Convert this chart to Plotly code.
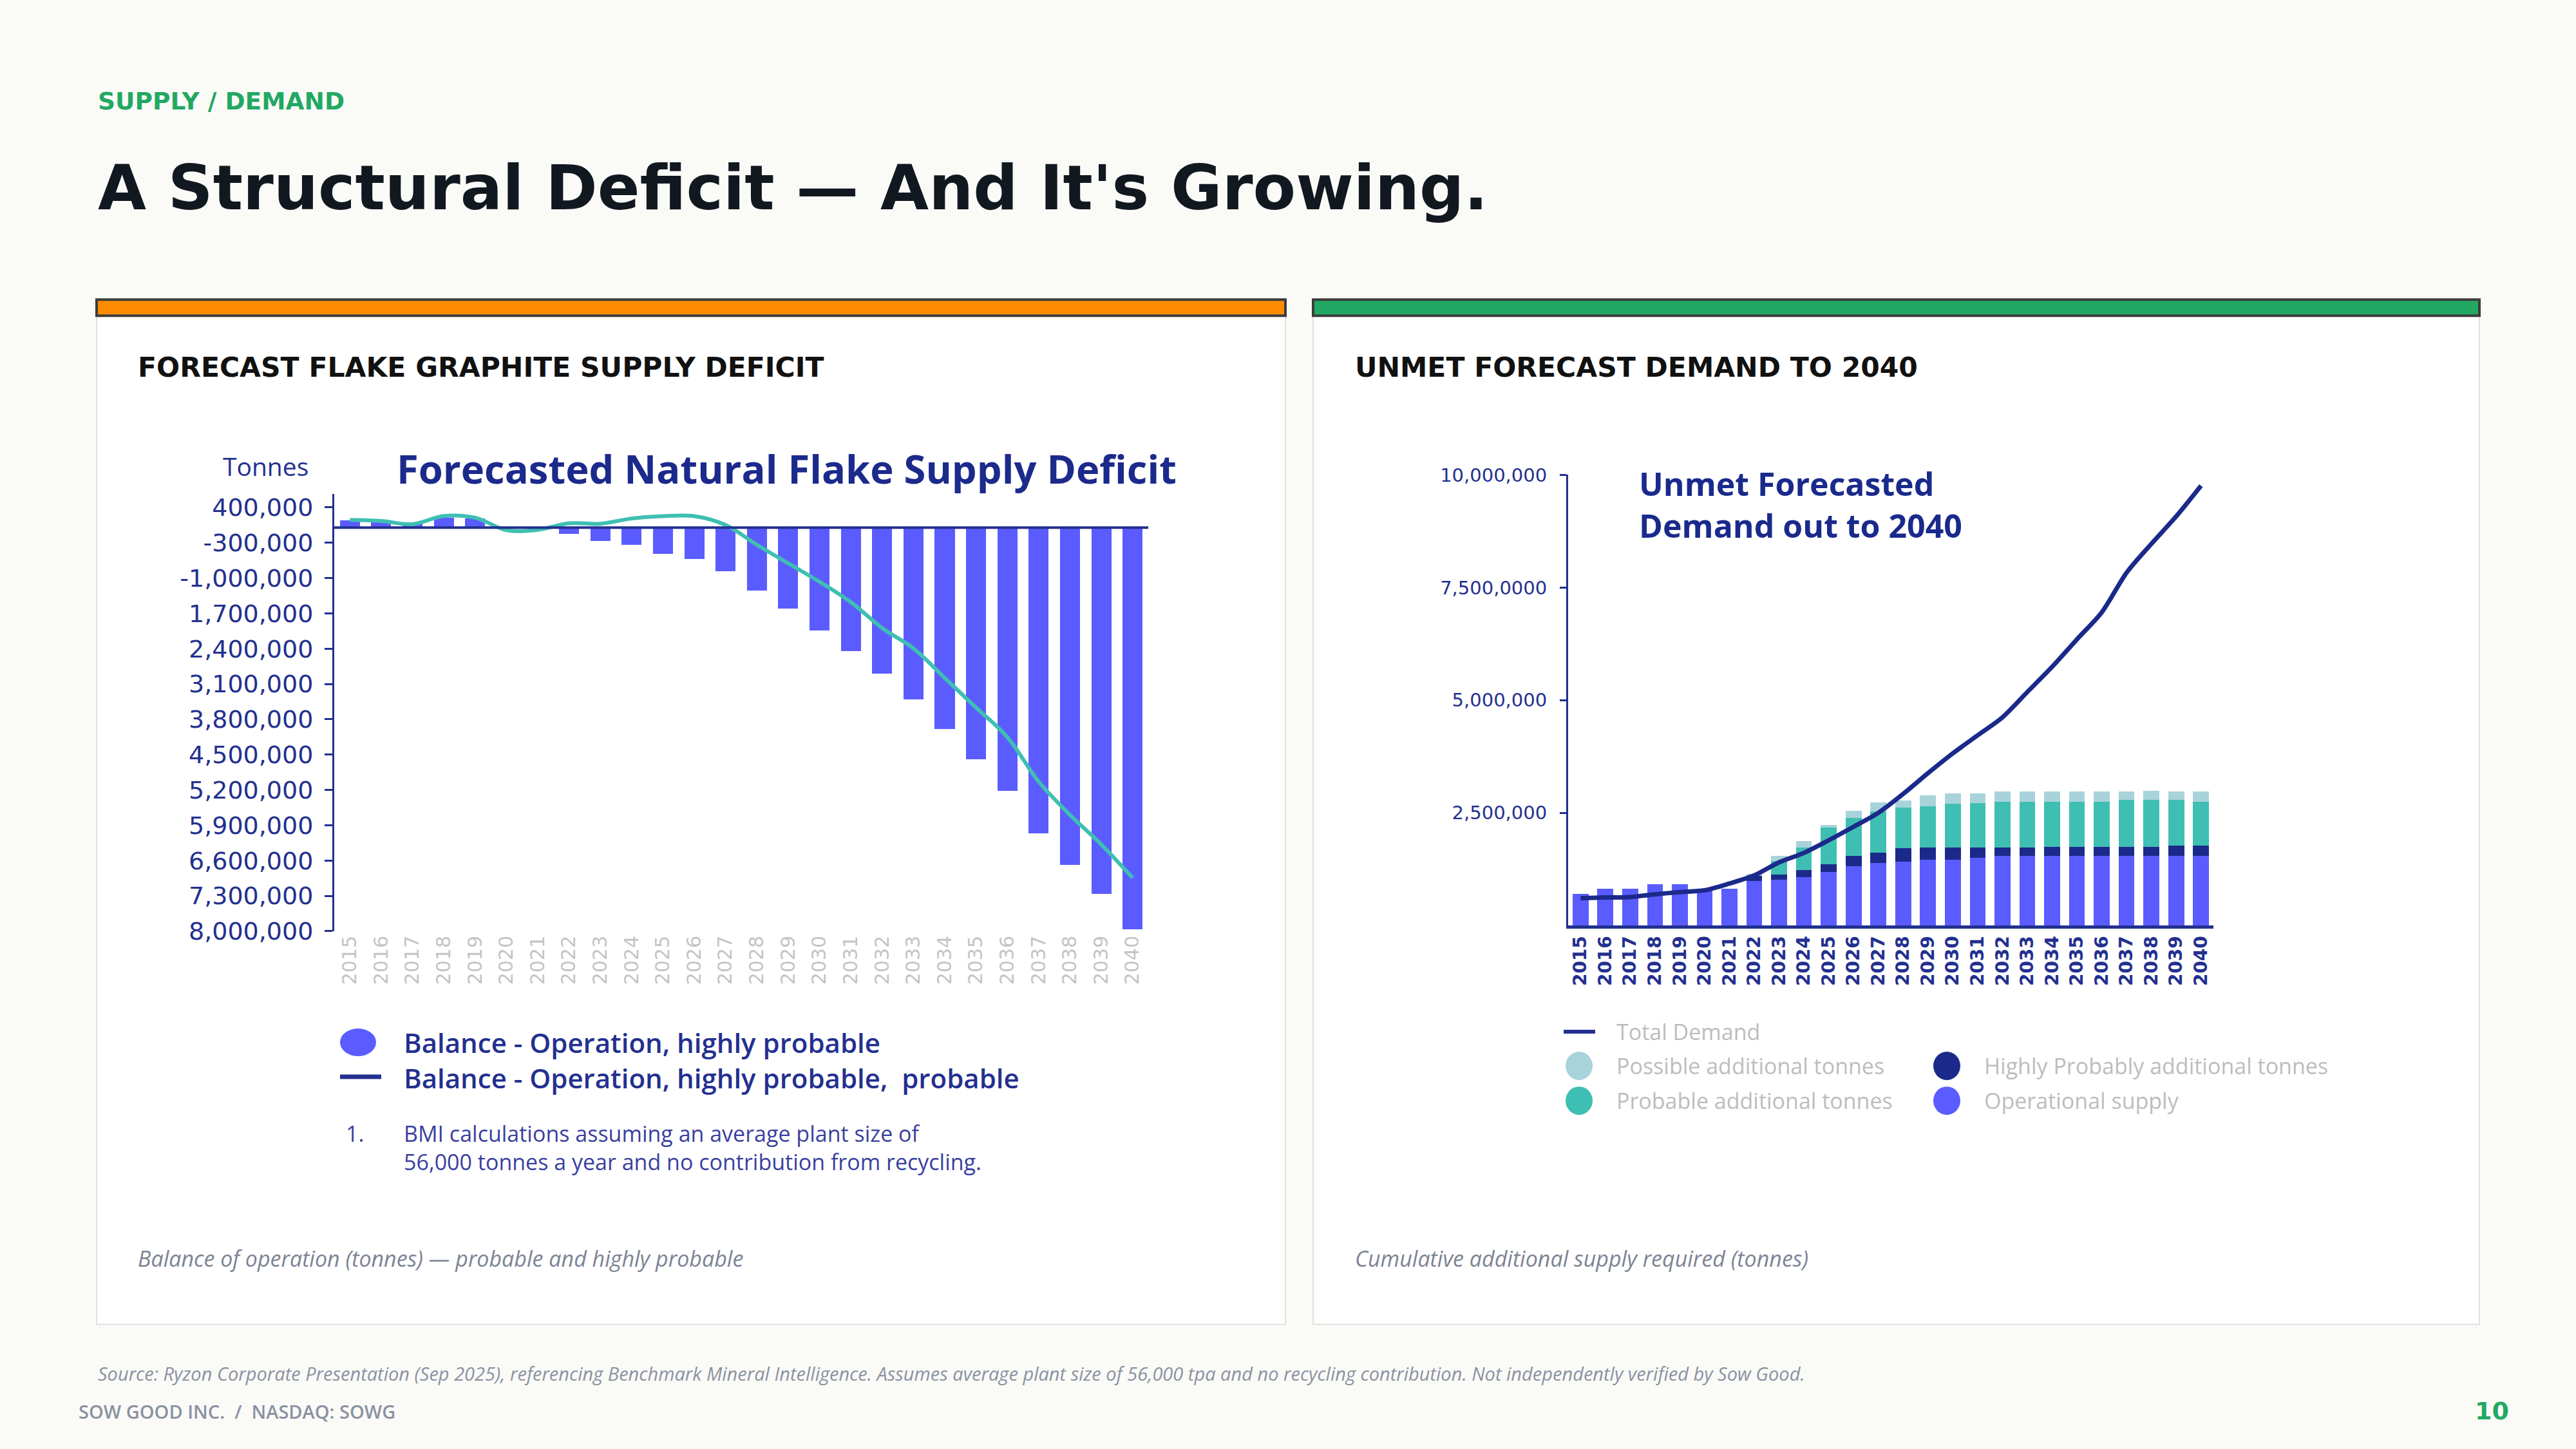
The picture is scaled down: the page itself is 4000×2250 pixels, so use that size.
import plotly.graph_objects as go

W, H = 4000, 2250

# ---------------- DATA ----------------
years = ["2015", "2016", "2017", "2018", "2019", "2020", "2021", "2022", "2023",
         "2024", "2025", "2026", "2027", "2028", "2029", "2030", "2031", "2032",
         "2033", "2034", "2035", "2036", "2037", "2038", "2039", "2040"]

# Left chart: balance (tonnes)
balance_highly_probable = [140000, 110000, 80000, 190000, 185000, -15000, -25000,
                           -120000, -270000, -340000, -520000, -625000, -860000,
                           -1250000, -1610000, -2044000, -2453000, -2893000,
                           -3407000, -3993000, -4594000, -5217000, -6061000,
                           -6685000, -7256000, -7967000]
balance_all_probable = [153000, 132000, 68000, 230000, 196000, -51000, -45000,
                        85000, 77000, 180000, 226000, 226000, 51000, -341000,
                        -708000, -1074000, -1478000, -1991000, -2394000,
                        -2981000, -3568000, -4154000, -5034000, -5694000,
                        -6281000, -6941000]
left_tickvals = [400000, -300000, -1000000, -1700000, -2400000, -3100000,
                 -3800000, -4500000, -5200000, -5900000, -6600000, -7300000,
                 -8000000]
left_ticktext = ["400,000", "-300,000", "-1,000,000", "1,700,000", "2,400,000",
                 "3,100,000", "3,800,000", "4,500,000", "5,200,000", "5,900,000",
                 "6,600,000", "7,300,000", "8,000,000"]

# Right chart: supply / demand (tonnes)
operational_supply = [700000, 810000, 810000, 920000, 920000, 780000, 820000,
                      980000, 1010000, 1070000, 1180000, 1310000, 1390000,
                      1420000, 1460000, 1460000, 1500000, 1550000, 1550000,
                      1550000, 1550000, 1550000, 1550000, 1550000, 1550000,
                      1550000]
highly_probable_add = [0, 0, 0, 0, 0, 0, 0, 120000, 120000, 160000, 180000,
                       230000, 220000, 290000, 270000, 270000, 230000, 180000,
                       180000, 200000, 200000, 200000, 200000, 200000, 220000,
                       220000]
probable_add = [0, 0, 0, 0, 0, 0, 0, 0, 300000, 500000, 810000, 850000, 920000,
                900000, 910000, 970000, 990000, 1020000, 1020000, 1000000,
                1000000, 1000000, 1040000, 1040000, 1020000, 980000]
possible_add = [0, 0, 0, 0, 0, 0, 0, 40000, 110000, 140000, 60000, 150000,
                200000, 170000, 250000, 230000, 210000, 220000, 220000, 220000,
                220000, 220000, 180000, 200000, 180000, 220000]
total_demand = [605000, 620000, 630000, 690000, 740000, 780000, 930000, 1110000,
                1400000, 1610000, 1890000, 2190000, 2500000, 2920000, 3380000,
                3820000, 4220000, 4620000, 5180000, 5740000, 6350000, 6950000,
                7830000, 8470000, 9080000, 9760000]
right_tickvals = [2500000, 5000000, 7500000, 10000000]
right_ticktext = ["2,500,000", "5,000,000", "7,500,0000", "10,000,000"]

# ---------------- STYLE ----------------
NAVY = "#23308F"
NAVY_DARK = "#1B2A8A"
PERI = "#5A5CFF"
TEAL = "#3FBFB3"
LIGHTBLUE = "#A9D3DB"
GREEN = "#22A862"
ORANGE = "#FF8C00"
HEAD = "DejaVu Sans"


def px(x):
    return x / W


def py(y):
    return 1 - ((y - 16) / 0.982) / H


fig = go.Figure()

# Left chart traces
fig.add_trace(go.Bar(x=years, y=balance_highly_probable, marker_color=PERI,
                     marker_line_width=0, name="Balance - Operation, highly probable",
                     xaxis="x", yaxis="y", showlegend=False))
fig.add_trace(go.Scatter(x=years, y=balance_all_probable, mode="lines",
                         line=dict(color=TEAL, width=6, shape="spline", smoothing=1.0),
                         name="Balance - Operation, highly probable, probable",
                         xaxis="x", yaxis="y", showlegend=False))

# Right chart traces
fig.add_trace(go.Bar(x=years, y=operational_supply, marker_color=PERI,
                     marker_line_width=0, name="Operational supply",
                     xaxis="x2", yaxis="y2", showlegend=False))
fig.add_trace(go.Bar(x=years, y=highly_probable_add, marker_color=NAVY_DARK,
                     marker_line_width=0, name="Highly Probably additional tonnes",
                     xaxis="x2", yaxis="y2", showlegend=False))
fig.add_trace(go.Bar(x=years, y=probable_add, marker_color=TEAL,
                     marker_line_width=0, name="Probable additional tonnes",
                     xaxis="x2", yaxis="y2", showlegend=False))
fig.add_trace(go.Bar(x=years, y=possible_add, marker_color=LIGHTBLUE,
                     marker_line_width=0, name="Possible additional tonnes",
                     xaxis="x2", yaxis="y2", showlegend=False))
fig.add_trace(go.Scatter(x=years, y=total_demand, mode="lines",
                         line=dict(color=NAVY_DARK, width=7, shape="spline", smoothing=0.8),
                         name="Total Demand", xaxis="x2", yaxis="y2", showlegend=False))

shapes = []
# Cards
for x0, x1, col in [(150, 1996, ORANGE), (2039, 3850, GREEN)]:
    shapes.append(dict(type="rect", xref="paper", yref="paper", layer="below",
                       x0=px(x0), x1=px(x1), y0=py(2054), y1=py(488),
                       fillcolor="#FFFFFF", line=dict(color="#E0E0E0", width=2)))
    shapes.append(dict(type="rect", xref="paper", yref="paper", layer="below",
                       x0=px(x0), x1=px(x1), y0=py(489), y1=py(464),
                       fillcolor=col, line=dict(color="#3C3C3C", width=4)))

# Left zero line
shapes.append(dict(type="line", xref="x domain", yref="y", x0=0, x1=1.0, y0=0, y1=0,
                   line=dict(color=NAVY, width=4), layer="above"))

# Left legend symbols
shapes.append(dict(type="circle", xref="paper", yref="paper",
                   x0=px(528), x1=px(584), y0=py(1638), y1=py(1595),
                   fillcolor=PERI, line=dict(width=0)))
shapes.append(dict(type="line", xref="paper", yref="paper",
                   x0=px(528), x1=px(592), y0=py(1670), y1=py(1670),
                   line=dict(color=NAVY, width=7)))

# Right legend symbols
shapes.append(dict(type="line", xref="paper", yref="paper",
                   x0=px(2428), x1=px(2477), y0=py(1600), y1=py(1600),
                   line=dict(color=NAVY, width=6)))
for cx, cy, col in [(2452, 1653, LIGHTBLUE), (2452, 1707, TEAL),
                    (3023, 1653, NAVY_DARK), (3023, 1707, PERI)]:
    shapes.append(dict(type="circle", xref="paper", yref="paper",
                       x0=px(cx - 21), x1=px(cx + 21), y0=py(cy + 22), y1=py(cy - 22),
                       fillcolor=col, line=dict(width=0)))

ann = []


def text(x, y, s, size, color, family="Liberation Sans", weight=None,
         xanchor="left", yanchor="middle", align="left"):
    f = dict(family=family, size=size, color=color)
    if weight is not None:
        f["weight"] = weight
    ann.append(dict(x=px(x), y=py(y), xref="paper", yref="paper", text=s,
                    showarrow=False, xanchor=xanchor, yanchor=yanchor, font=f,
                    align=align))


# Slide text
text(150, 156, "<b>SUPPLY / DEMAND</b>", 37.5, GREEN, family=HEAD)
text(150, 290, "<b>A Structural Deficit — And It's Growing.</b>", 97, "#111820",
     family=HEAD)
text(212, 569, "<b>FORECAST FLAKE GRAPHITE SUPPLY DEFICIT</b>", 42.5, "#111111",
     family=HEAD)
text(2102, 569, "<b>UNMET FORECAST DEMAND TO 2040</b>", 42.5, "#111111", family=HEAD)
text(212, 1952, "<i>Balance of operation (tonnes) — probable and highly probable</i>",
     34, "#7C8494", family="Open Sans")
text(2102, 1952, "<i>Cumulative additional supply required (tonnes)</i>",
     34, "#7C8494", family="Open Sans")
text(150, 2130, "<i>Source: Ryzon Corporate Presentation (Sep 2025), referencing Benchmark "
     "Mineral Intelligence. Assumes average plant size of 56,000 tpa and no recycling "
     "contribution. Not independently verified by Sow Good.</i>", 29, "#8A92A2",
     family="Open Sans")
text(120, 2189, "SOW GOOD INC.  /  NASDAQ: SOWG", 29, "#8A92A2", family="Open Sans",
     weight=600)
text(3898, 2189, "<b>10</b>", 38, GREEN, family=HEAD, xanchor="right")

# Left chart embedded texts
text(412, 722, "Tonnes", 39, NAVY, family="Open Sans", weight=500, xanchor="center")
text(614, 726, "<b>Forecasted Natural Flake Supply Deficit</b>", 61.5, "#1C2A8C",
     family="Open Sans")
text(625, 1644, "Balance - Operation, highly probable<br>"
     "Balance - Operation, highly probable,  probable", 42, NAVY,
     family="Open Sans", weight=600)
text(535, 1758, "1.", 34, "#3A3F9F", family="Open Sans")
text(625, 1780, "BMI calculations assuming an average plant size of<br>"
     "56,000 tonnes a year and no contribution from recycling.", 34, "#3A3F9F",
     family="Open Sans")

# Right chart embedded texts
text(2543, 782, "<b>Unmet Forecasted<br>Demand out to 2040</b>", 50, "#1A2A8C",
     family="Open Sans")
text(2508, 1600, "Total Demand", 34, "#BDBDBD", family="Open Sans")
text(2508, 1653, "Possible additional tonnes", 34, "#BDBDBD", family="Open Sans")
text(2508, 1707, "Probable additional tonnes", 34, "#BDBDBD", family="Open Sans")
text(3079, 1653, "Highly Probably additional tonnes", 34, "#BDBDBD", family="Open Sans")
text(3079, 1707, "Operational supply", 34, "#BDBDBD", family="Open Sans")

fig.update_layout(
    width=W, height=H,
    margin=dict(l=0, r=0, t=0, b=0),
    paper_bgcolor="#FAFAF7",
    plot_bgcolor="rgba(0,0,0,0)",
    barmode="stack",
    bargap=0.36,
    showlegend=False,
    shapes=shapes,
    annotations=ann,
    xaxis=dict(domain=[px(519), px(1783)], type="category", tickangle=-90,
               showline=False, showgrid=False, zeroline=False, ticks="",
               tickfont=dict(family="DejaVu Sans", size=30, color="#C4C4C4"),
               anchor="y", range=[-0.5, 25.5]),
    yaxis=dict(domain=[py(1444), py(765)], range=[-8000000, 673000],
               tickvals=left_tickvals, ticktext=left_ticktext,
               showline=True, linecolor=NAVY, linewidth=3, showgrid=False,
               zeroline=False, ticks="outside", ticklen=12, tickwidth=3,
               tickcolor=NAVY, ticklabelstandoff=10,
               tickfont=dict(family="DejaVu Sans", size=38, color=NAVY),
               anchor="x"),
    xaxis2=dict(domain=[px(2435), px(3437)], type="category", tickangle=-90,
                showline=True, linecolor=NAVY, linewidth=5, showgrid=False,
                zeroline=False, ticks="", layer="above traces",
                tickfont=dict(family="DejaVu Sans", size=28, color=NAVY,
                              weight="bold"),
                anchor="y2", range=[-0.5, 25.5]),
    yaxis2=dict(domain=[py(1435), py(736)], range=[0, 10000000],
                tickvals=right_tickvals, ticktext=right_ticktext,
                showline=True, linecolor=NAVY, linewidth=3, showgrid=False,
                zeroline=False, ticks="outside", ticklen=10, tickwidth=3,
                tickcolor=NAVY, ticklabelstandoff=14,
                tickfont=dict(family="DejaVu Sans", size=29, color=NAVY),
                anchor="x2"),
)

fig.write_html("out.html",
               config={"displayModeBar": False},
               post_script="document.body.style.margin='0px';"
                           "document.body.style.overflow='hidden';")
